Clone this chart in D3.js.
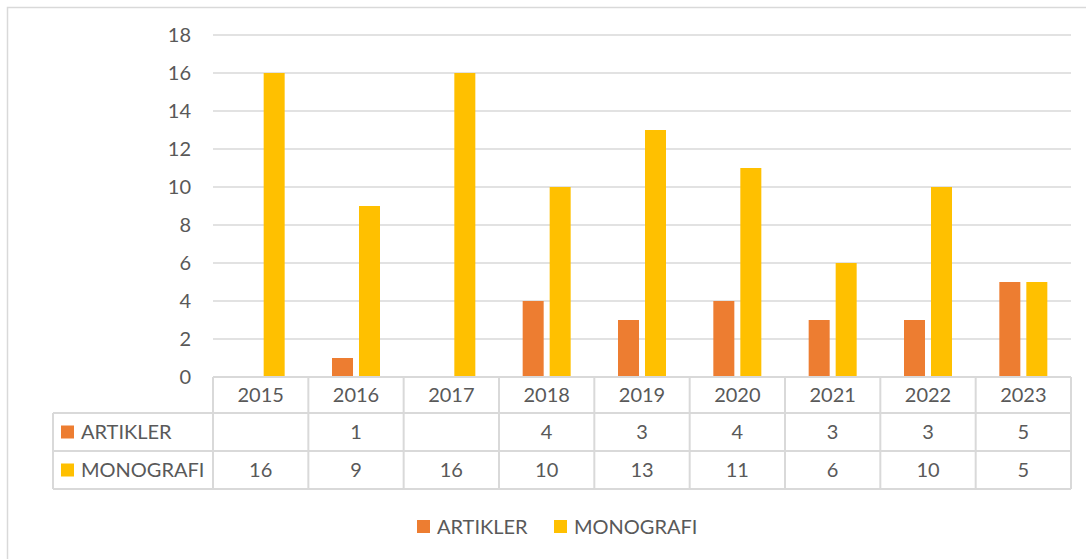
<!DOCTYPE html>
<html>
<head>
<meta charset="utf-8">
<script src="https://cdn.jsdelivr.net/npm/d3@7"></script>
<style>
    body { margin: 0; background: #fff; }
    text { font-family: Lato, "Open Sans", sans-serif; fill: #595959; }
</style>
</head>
<body>
<div id="chart"></div>
<script>
var years = ["2015", "2016", "2017", "2018", "2019", "2020", "2021", "2022", "2023"];
var seriesNames = ["ARTIKLER", "MONOGRAFI"];
var artikler = [null, 1, null, 4, 3, 4, 3, 3, 5];
var monografi = [16, 9, 16, 10, 13, 11, 6, 10, 5];
var yTicks = [0, 2, 4, 6, 8, 10, 12, 14, 16, 18];
var colors = ["#ED7D31", "#FFC000"];

window.onload = init;

function init() {
    var w = 1086;
    var h = 559;
    var gridColor = "#d9d9d9";
    var fontSize = "20px";
    var seriesValues = [artikler, monografi];

    var svg = d3.select("#chart")
                .append("svg")
                .attr("width", w)
                .attr("height", h);

    // outer frame (right and bottom run off the picture)
    svg.append("rect")
        .attr("x", 7.5).attr("y", 7.5)
        .attr("width", w + 20).attr("height", h + 20)
        .attr("fill", "none")
        .attr("stroke", gridColor)
        .attr("stroke-width", 1.5);

    var x0 = d3.scaleBand().domain(years).range([213, 1071]);
    var x1 = d3.scaleBand().domain(seriesNames)
                .range([(x0.bandwidth() - 48) / 2, (x0.bandwidth() + 48) / 2])
                .paddingInner(0.222);
    var y = d3.scaleLinear().domain([0, 18]).range([377, 35]);

    // gridlines
    svg.selectAll("line.grid")
        .data(yTicks.slice(1))
        .enter()
        .append("line")
        .attr("class", "grid")
        .attr("x1", 213).attr("x2", 1071)
        .attr("y1", function(d) { return y(d); })
        .attr("y2", function(d) { return y(d); })
        .attr("stroke", gridColor)
        .attr("stroke-width", 1.5);

    // y labels
    svg.selectAll("text.ytick")
        .data(yTicks)
        .enter()
        .append("text")
        .attr("class", "ytick")
        .attr("x", 191)
        .attr("y", function(d) { return y(d); })
        .attr("dy", "0.35em")
        .attr("text-anchor", "end")
        .style("font-size", fontSize)
        .text(function(d) { return d; });

    // bars
    seriesNames.forEach(function(name, s) {
        var vals = seriesValues[s];
        svg.selectAll("rect.bar" + s)
            .data(years.filter(function(d, i) { return vals[i] != null; }))
            .enter()
            .append("rect")
            .attr("class", "bar" + s)
            .attr("x", function(d) { return x0(d) + x1(name); })
            .attr("width", x1.bandwidth())
            .attr("y", function(d) { return y(vals[years.indexOf(d)]); })
            .attr("height", function(d) { return y(0) - y(vals[years.indexOf(d)]); })
            .attr("fill", colors[s]);
    });

    // data table
    var rowTop = [377, 413, 451, 489];
    var tableLeft = 53;
    var g = svg.append("g")
                .attr("stroke", gridColor)
                .attr("stroke-width", 2);

    g.append("line").attr("x1", 213).attr("x2", 1071).attr("y1", 377).attr("y2", 377);
    rowTop.slice(1).forEach(function(ry) {
        g.append("line").attr("x1", tableLeft).attr("x2", 1071).attr("y1", ry).attr("y2", ry);
    });
    g.append("line").attr("x1", tableLeft).attr("x2", tableLeft).attr("y1", 413).attr("y2", 489);
    years.forEach(function(d) {
        g.append("line").attr("x1", x0(d)).attr("x2", x0(d)).attr("y1", 377).attr("y2", 489);
    });
    g.append("line").attr("x1", 1071).attr("x2", 1071).attr("y1", 377).attr("y2", 489);

    svg.selectAll("text.year")
        .data(years)
        .enter()
        .append("text")
        .attr("class", "year")
        .attr("x", function(d) { return x0(d) + x0.bandwidth() / 2; })
        .attr("y", (rowTop[0] + rowTop[1]) / 2)
        .attr("dy", "0.35em")
        .attr("text-anchor", "middle")
        .style("font-size", fontSize)
        .text(function(d) { return d; });

    seriesNames.forEach(function(name, s) {
        var cy = (rowTop[s + 1] + rowTop[s + 2]) / 2;
        svg.append("rect")
            .attr("x", 61).attr("y", cy - 6.5)
            .attr("width", 13).attr("height", 13)
            .attr("fill", colors[s]);
        svg.append("text")
            .attr("x", 81).attr("y", cy)
            .attr("dy", "0.35em")
            .style("font-size", fontSize)
            .text(name);
        svg.selectAll("text.val" + s)
            .data(years)
            .enter()
            .append("text")
            .attr("class", "val" + s)
            .attr("x", function(d) { return x0(d) + x0.bandwidth() / 2; })
            .attr("y", cy)
            .attr("dy", "0.35em")
            .attr("text-anchor", "middle")
            .style("font-size", fontSize)
            .text(function(d, i) { return seriesValues[s][i] == null ? "" : seriesValues[s][i]; });
    });

    // legend
    var legendX = [417, 554];
    seriesNames.forEach(function(name, s) {
        svg.append("rect")
            .attr("x", legendX[s]).attr("y", 520)
            .attr("width", 13).attr("height", 13)
            .attr("fill", colors[s]);
        svg.append("text")
            .attr("x", legendX[s] + 20).attr("y", 526.5)
            .attr("dy", "0.35em")
            .style("font-size", fontSize)
            .text(name);
    });
}
</script>
</body>
</html>
